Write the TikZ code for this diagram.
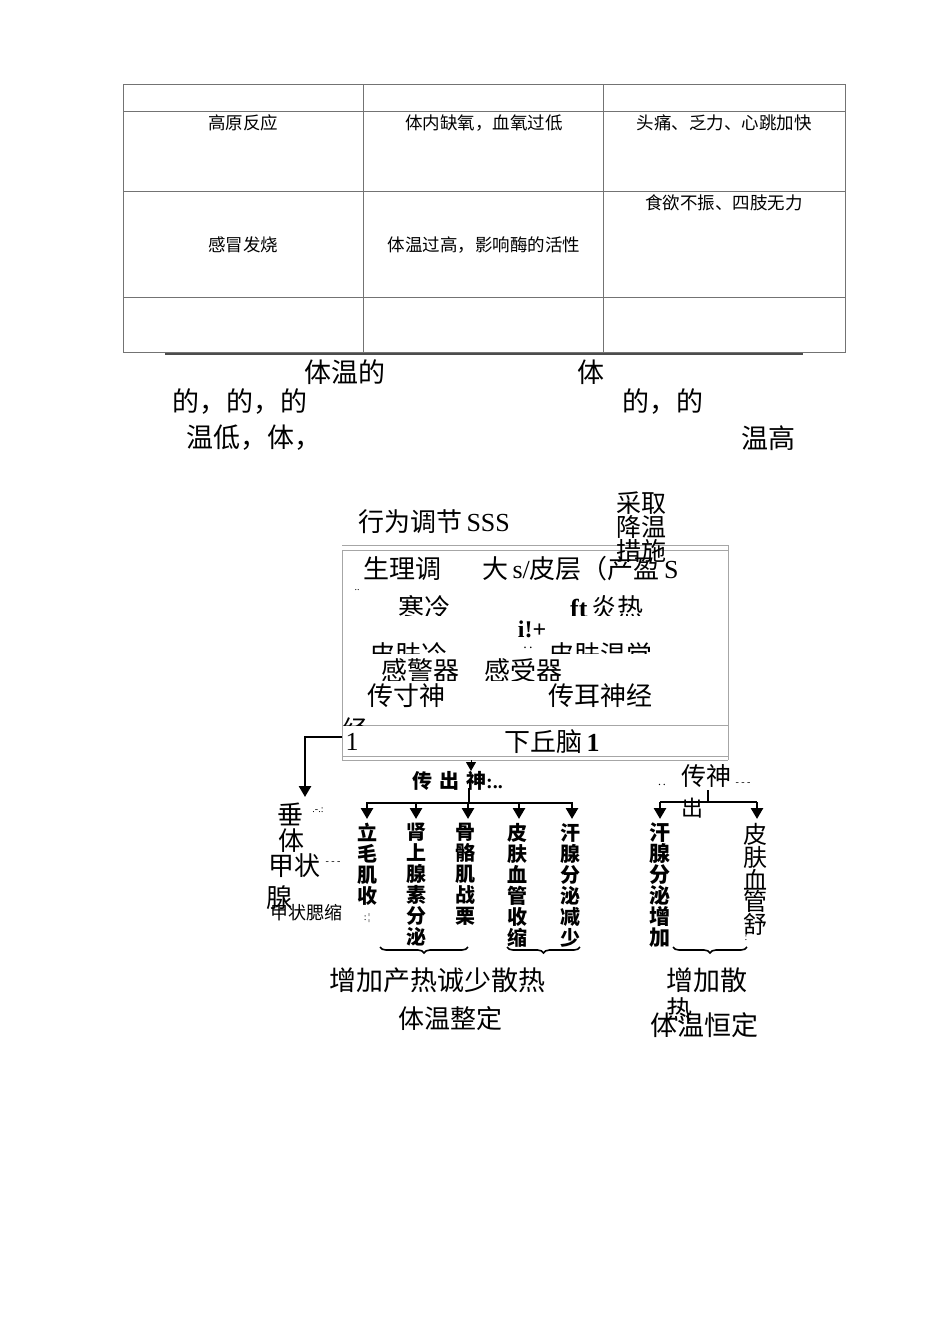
\documentclass[tikz,border=0pt]{standalone}
\usepackage{fontspec}
\setmainfont{Liberation Serif}
\newfontfamily\cjk{Noto Sans CJK SC}
\usetikzlibrary{arrows.meta,decorations.pathreplacing}
\newcommand\lat[1]{{\rmfamily #1}}

\tikzset{
  grid/.style={draw=black!55, line width=0.8pt},
  boxline/.style={draw=black!35, line width=0.9pt},
  cell/.style={font=\cjk\fontsize{17.5}{20}\selectfont, inner sep=0pt},
  para/.style={font=\cjk\fontsize{27}{27}\selectfont, inner sep=0pt},
  lbl/.style={font=\cjk\fontsize{26}{26}\selectfont, inner sep=0pt},
  col/.style={font=\cjk\bfseries\fontsize{20}{21}\selectfont, align=center, inner sep=0pt, anchor=north},
  dots/.style={font=\fontsize{10}{10}\selectfont, inner sep=0pt},
  arr/.style={line width=2.6pt, -{Triangle[length=11pt,width=12pt]}},
  bar/.style={line width=2.6pt},
  brc/.style={decorate, decoration={brace, mirror, amplitude=6pt}, line width=1.6pt},
}

\begin{document}
\begin{tikzpicture}[x=1pt,y=-1pt]
\useasboundingbox (0,0) rectangle (950,1344);

% table
\draw[grid] (123,84) rectangle (845,352);
\draw[grid] (363,84) -- (363,352);
\draw[grid] (603,84) -- (603,352);
\draw[grid] (123,111) -- (845,111);
\draw[grid] (123,191) -- (845,191);
\draw[grid] (123,297) -- (845,297);
\draw[draw=black!70, line width=1.2pt] (165,354) -- (803,354);

\node[cell] (c11) at (243,123) {高原反应};
\node[cell] (c12) at (484,123) {体内缺氧，血氧过低};
\node[cell] (c13) at (724,123) {头痛、乏力、心跳加快};
\node[cell] (c21) at (243,245) {感冒发烧};
\node[cell] (c22) at (484,245) {体温过高，影响酶的活性};
\node[cell] (c23) at (724,203) {食欲不振、四肢无力};

% loose text under the table
\node[para] (p1) at (345,372) {体温的};
\node[para] (p2) at (591,372) {体};
\node[para] (p3) at (240,402) {的，的，的};
\node[para] (p4) at (663,402) {的，的};
\node[para] (p5) at (254,438) {温低，体，};
\node[para] (p6) at (768,438) {温高};

% box
\draw[boxline] (342,545) -- (728,545);
\draw[boxline] (342,550) -- (728,550);
\draw[boxline] (342,550) -- (342,760);
\draw[boxline] (728,545) -- (728,760);
\draw[boxline] (342,725) -- (728,725);
\draw[boxline] (342,756) -- (728,756);
\draw[boxline] (342,760) -- (728,760);

\node[lbl, anchor=west] (beh) at (358,522) {行为调节\lat{\,SSS}};
\node[lbl, anchor=west] (phys) at (363,569) {生理调};
\node[lbl, anchor=west] (cortex) at (482,569) {大\lat{\,s/}皮层（产盈\lat{\,S}};
\node[lbl, align=center, font=\cjk\fontsize{25}{19}\selectfont] (cool) at (641,527) {采取\\降温\\措施};
\node[dots] (d1) at (357,590) {..};

\begin{scope}
  \clip (342,585) rectangle (728,615);
  \node[lbl] (cold) at (424,608) {寒冷};
  \node[lbl] (hot) at (607,608) {\lat{\textbf{ft}\,}炎热};
\end{scope}
\node[font=\rmfamily\bfseries\fontsize{24}{24}\selectfont, inner sep=0pt] (iplus) at (532,629) {i!+};
\begin{scope}
  \clip (342,635) rectangle (728,653);
  \node[lbl] (skinc) at (408,655) {皮肤冷};
  \node[lbl] (skinw) at (600,655) {皮肤温觉};
\end{scope}
\node[font=\fontsize{14}{14}\selectfont, inner sep=0pt] (d2) at (528,648) {.\,.};
\begin{scope}
  \clip (342,655) rectangle (728,680);
  \node[lbl] (rec1) at (420,671) {感警器};
  \node[lbl] (rec2) at (523,671) {感受器};
\end{scope}
\node[lbl] (aff1) at (406,696) {传寸神};
\node[lbl] (aff2) at (600,696) {传耳神经};
\begin{scope}
  \clip (342,705) rectangle (728,725);
  \node[lbl] (aff3) at (355,729) {经};
\end{scope}
\node[font=\rmfamily\fontsize{26}{26}\selectfont, inner sep=0pt] (one) at (352,742) {1};
\node[lbl] (hyp) at (552,742) {下丘脑\lat{\,\textbf{1}}};

% left branch
\coordinate (hypL) at (342,737);
\coordinate (pitT) at (305,797);
\draw[arr] (hypL) -| (pitT);
\node[lbl] (pit1) at (290,814) {垂};
\node[dots] (pd1) at (318,810) {.-.:};
\node[lbl] (pit2) at (291,841) {体};
\node[lbl] (thy1) at (294,866) {甲状};
\node[dots] (pd2) at (333,863) {- - -};
\node[lbl] (thy2) at (279,898) {腺};
\node[font=\cjk\fontsize{18}{18}\selectfont, inner sep=0pt] (thy3) at (306,913) {甲状腮缩};

% efferent, cold side
\coordinate (hypS) at (471,760);
\coordinate (effT) at (471,771);
\draw[line width=1pt, -{Triangle[length=9pt,width=10pt]}] (hypS) -- (effT);
\node[font=\cjk\bfseries\fontsize{20}{20}\selectfont, inner sep=0pt, anchor=west] (eff) at (412,781) {传\hspace{7pt}出\hspace{7pt}神\lat{:..}};
\coordinate (effS) at (469,788);
\coordinate (bL) at (366,803);
\coordinate (bR) at (573,803);
\draw[bar] (effS) -- (469,803);
\draw[bar] (bL) -- (bR);

\node[col] (cA) at (367,823) {立\\毛\\肌\\收};
\node[dots] (cAx) at (367,918) {:\,¦};
\node[col] (cB) at (416,823) {肾\\上\\腺\\素\\分\\泌};
\node[col] (cC) at (465,823) {骨\\骼\\肌\\战\\栗};
\node[col] (cD) at (517,823) {皮\\肤\\血\\管\\收\\缩};
\node[col] (cE) at (570,823) {汗\\腺\\分\\泌\\减\\少};
\foreach \n/\x in {A/367,B/416,C/468,D/519,E/572}
  \draw[arr] (\x,803) -- (\x,819);

\coordinate (bA1) at (380,947);
\coordinate (bA2) at (468,947);
\draw[brc] (bA1) -- (bA2);
\coordinate (bB1) at (507,947);
\coordinate (bB2) at (580,947);
\draw[brc] (bB1) -- (bB2);

\node[lbl, font=\cjk\fontsize{27}{27}\selectfont] (sumA) at (437,980) {增加产热诚少散热};
\node[lbl] (keepA) at (450,1019) {体温整定};

% efferent, hot side
\node[font=\fontsize{12}{12}\selectfont, inner sep=0pt] (rd1) at (662,785) {.\,.};
\node[lbl, font=\cjk\fontsize{25}{25}\selectfont] (reff) at (706,776) {传神};
\node[dots] (rd2) at (743,784) {- - -};
\node[lbl, font=\cjk\fontsize{22}{22}\selectfont] (reff2) at (692,808) {出};
\coordinate (rS) at (708,790);
\coordinate (rL) at (660,802);
\coordinate (rR) at (757,802);
\draw[bar] (rS) -- (708,802);
\draw[bar] (rL) -- (rR);
\draw[arr] (rL) -- (660,819);
\draw[arr] (rR) -- (757,819);

\node[col, font=\cjk\bfseries\fontsize{21}{21}\selectfont] (cF) at (660,823) {汗\\腺\\分\\泌\\增\\加};
\node[col, font=\cjk\fontsize{24}{21}\selectfont] (cG) at (755,823) {皮\\肤\\血\\管\\舒};
\node[dots] (cGx) at (746,938) {:};

\coordinate (bC1) at (673,947);
\coordinate (bC2) at (747,947);
\draw[brc] (bC1) -- (bC2);

\node[lbl, font=\cjk\fontsize{27}{27}\selectfont] (sumB) at (707,980) {增加散};
\node[lbl] (sumB2) at (679,1010) {热};
\node[lbl, font=\cjk\fontsize{27}{27}\selectfont] (keepB) at (704,1025) {体温恒定};
\end{tikzpicture}
\end{document}
